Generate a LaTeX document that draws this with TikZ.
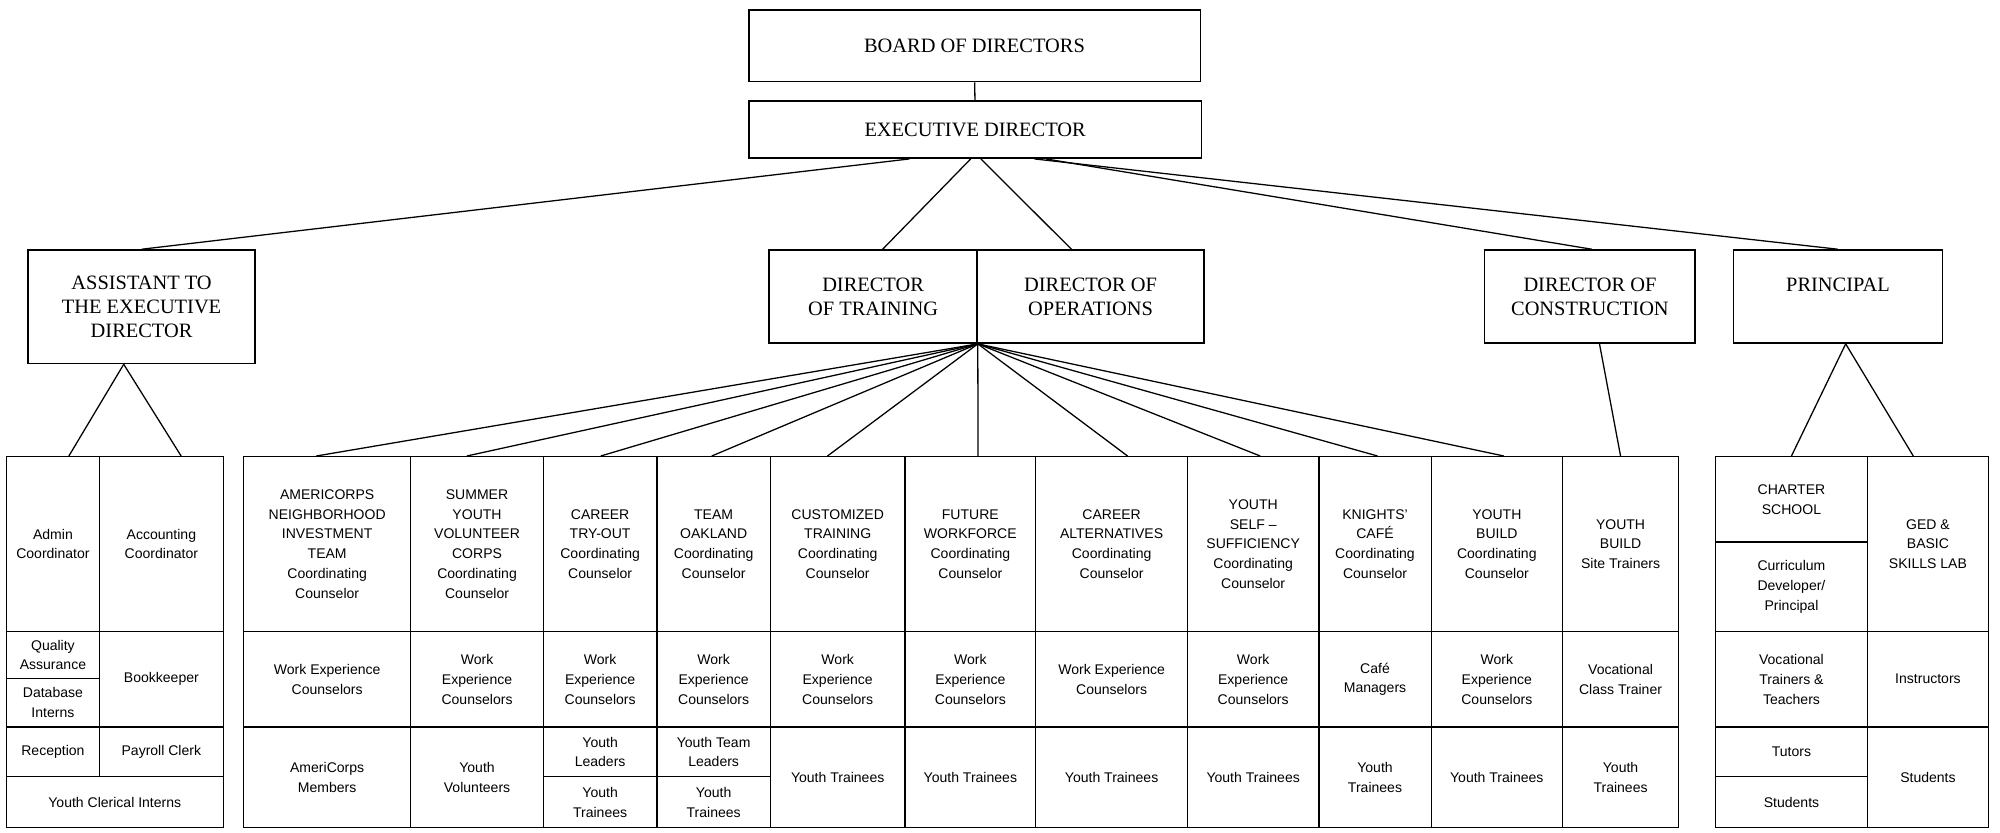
\documentclass[tikz,border=0pt]{standalone}
\usepackage{fontspec}
\setmainfont{Liberation Serif}
\newfontfamily\cellsans[Ligatures=TeX]{Liberation Sans}
\tikzset{
  headbox/.style={draw, line width=1.2pt, inner sep=0pt, align=center, font=\fontsize{16}{19}\selectfont},
  cell/.style={draw, line width=1pt, inner sep=0pt, align=center, font=\cellsans\fontsize{11}{15.5}\selectfont},
  link/.style={line width=1pt},
}
\newcommand{\orgbox}[7]{\node[#1, minimum width={(#5-#3)*1pt}, minimum height={(#6-#4)*1pt}] (#2) at ({(#3+#5)/2},{(#4+#6)/2}) {#7};}
\begin{document}
\begin{tikzpicture}[x=1pt,y=-1pt]
\useasboundingbox (0,0) rectangle (1568,653);
% heads
\orgbox{headbox}{board}{587}{8}{941}{64}{BOARD OF DIRECTORS}
\orgbox{headbox}{exec}{587}{79}{942}{124}{EXECUTIVE DIRECTOR}
\orgbox{headbox}{assist}{22}{196}{200}{285}{ASSISTANT TO\\THE EXECUTIVE\\DIRECTOR}
\orgbox{headbox}{dtrain}{603}{196}{766}{269}{DIRECTOR\\OF TRAINING}
\orgbox{headbox}{dops}{766}{196}{944}{269}{DIRECTOR OF\\OPERATIONS}
\orgbox{headbox}{dcons}{1164}{196}{1329}{269}{DIRECTOR OF\\CONSTRUCTION}
\orgbox{headbox}{princ}{1359}{196}{1523}{269}{PRINCIPAL\\~}
% left group
\orgbox{cell}{admin}{5}{358}{78}{495}{Admin\\Coordinator}
\orgbox{cell}{acct}{78}{358}{175}{495}{Accounting\\Coordinator}
\orgbox{cell}{qa}{5}{495}{78}{532}{Quality\\Assurance}
\orgbox{cell}{dbint}{5}{532}{78}{570}{Database\\Interns}
\orgbox{cell}{bookk}{78}{495}{175}{570}{Bookkeeper}
\orgbox{cell}{recep}{5}{570}{78}{609}{Reception}
\orgbox{cell}{payroll}{78}{570}{175}{609}{Payroll Clerk}
\orgbox{cell}{ycler}{5}{609}{175}{649}{Youth Clerical Interns}
% main columns
\orgbox{cell}{c1a}{191}{358}{322}{495}{AMERICORPS\\NEIGHBORHOOD\\INVESTMENT\\TEAM\\Coordinating\\Counselor}
\orgbox{cell}{c1b}{191}{495}{322}{570}{Work Experience\\Counselors}
\orgbox{cell}{c1c}{191}{570}{322}{649}{AmeriCorps\\Members}
\orgbox{cell}{c2a}{322}{358}{426}{495}{SUMMER\\YOUTH\\VOLUNTEER\\CORPS\\Coordinating\\Counselor}
\orgbox{cell}{c2b}{322}{495}{426}{570}{Work\\Experience\\Counselors}
\orgbox{cell}{c2c}{322}{570}{426}{649}{Youth\\Volunteers}
\orgbox{cell}{c3a}{426}{358}{515}{495}{CAREER\\TRY-OUT\\Coordinating\\Counselor}
\orgbox{cell}{c3b}{426}{495}{515}{570}{Work\\Experience\\Counselors}
\orgbox{cell}{c3c}{426}{570}{515}{609}{Youth\\Leaders}
\orgbox{cell}{c3d}{426}{609}{515}{649}{Youth\\Trainees}
\orgbox{cell}{c4a}{515}{358}{604}{495}{TEAM\\OAKLAND\\Coordinating\\Counselor}
\orgbox{cell}{c4b}{515}{495}{604}{570}{Work\\Experience\\Counselors}
\orgbox{cell}{c4c}{515}{570}{604}{609}{Youth Team\\Leaders}
\orgbox{cell}{c4d}{515}{609}{604}{649}{Youth\\Trainees}
\orgbox{cell}{c5a}{604}{358}{709.5}{495}{CUSTOMIZED\\TRAINING\\Coordinating\\Counselor}
\orgbox{cell}{c5b}{604}{495}{709.5}{570}{Work\\Experience\\Counselors}
\orgbox{cell}{c5c}{604}{570}{709.5}{649}{Youth Trainees}
\orgbox{cell}{c6a}{709.5}{358}{812}{495}{FUTURE\\WORKFORCE\\Coordinating\\Counselor}
\orgbox{cell}{c6b}{709.5}{495}{812}{570}{Work\\Experience\\Counselors}
\orgbox{cell}{c6c}{709.5}{570}{812}{649}{Youth Trainees}
\orgbox{cell}{c7a}{812}{358}{931}{495}{CAREER\\ALTERNATIVES\\Coordinating\\Counselor}
\orgbox{cell}{c7b}{812}{495}{931}{570}{Work Experience\\Counselors}
\orgbox{cell}{c7c}{812}{570}{931}{649}{Youth Trainees}
\orgbox{cell}{c8a}{931}{358}{1034}{495}{YOUTH\\SELF –\\SUFFICIENCY\\Coordinating\\Counselor}
\orgbox{cell}{c8b}{931}{495}{1034}{570}{Work\\Experience\\Counselors}
\orgbox{cell}{c8c}{931}{570}{1034}{649}{Youth Trainees}
\orgbox{cell}{c9a}{1034}{358}{1122}{495}{KNIGHTS'\\CAFÉ\\Coordinating\\Counselor}
\orgbox{cell}{c9b}{1034}{495}{1122}{570}{Café\\Managers}
\orgbox{cell}{c9c}{1034}{570}{1122}{649}{Youth\\Trainees}
\orgbox{cell}{c10a}{1122}{358}{1225}{495}{YOUTH\\BUILD\\Coordinating\\Counselor}
\orgbox{cell}{c10b}{1122}{495}{1225}{570}{Work\\Experience\\Counselors}
\orgbox{cell}{c10c}{1122}{570}{1225}{649}{Youth Trainees}
\orgbox{cell}{c11a}{1225}{358}{1316}{495}{YOUTH\\BUILD\\Site Trainers}
\orgbox{cell}{c11b}{1225}{495}{1316}{570}{Vocational\\Class Trainer}
\orgbox{cell}{c11c}{1225}{570}{1316}{649}{Youth\\Trainees}
% principal group
\orgbox{cell}{charter}{1345}{358}{1464}{425}{CHARTER\\SCHOOL}
\orgbox{cell}{curric}{1345}{425}{1464}{495}{Curriculum\\Developer/\\Principal}
\orgbox{cell}{ged}{1464}{358}{1559}{495}{GED \&\\BASIC\\SKILLS LAB}
\orgbox{cell}{voctt}{1345}{495}{1464}{570}{Vocational\\Trainers \&\\Teachers}
\orgbox{cell}{instr}{1464}{495}{1559}{570}{Instructors}
\orgbox{cell}{tutors}{1345}{570}{1464}{609}{Tutors}
\orgbox{cell}{studa}{1345}{609}{1464}{649}{Students}
\orgbox{cell}{studb}{1464}{570}{1559}{649}{Students}
% connectors
\draw[link] (board) -- (exec);
\draw[link] ([xshift=-51.5pt]exec.south) -- (assist.north);
\draw[link] ([xshift=-3.5pt]exec.south) -- ([xshift=7.5pt]dtrain.north);
\draw[link] ([xshift=4.5pt]exec.south) -- ([xshift=-15pt]dops.north);
\draw[link] ([xshift=55.5pt]exec.south) -- ([xshift=1.5pt]dcons.north);
\draw[link] ([xshift=46.5pt]exec.south) -- (princ.north);
\draw[link] ([xshift=-14pt]assist.south) -- ([xshift=12.5pt]admin.north);
\draw[link] ([xshift=-14pt]assist.south) -- ([xshift=15.5pt]acct.north);
\foreach \n/\s in {c1a/-8.5, c2a/-8, c3a/0.5, c4a/-1.5, c5a/-8, c6a/6, c7a/12.5, c8a/5.5, c9a/2, c10a/5.5}
  \draw[link] (dtrain.south east) -- ([xshift=\s pt]\n.north);
\draw[link] ([xshift=7.5pt]dcons.south) -- (c11a.north);
\draw[link] ([xshift=6pt]princ.south) -- (charter.north);
\draw[link] ([xshift=6pt]princ.south) -- ([xshift=-11.5pt]ged.north);
\end{tikzpicture}
\end{document}
